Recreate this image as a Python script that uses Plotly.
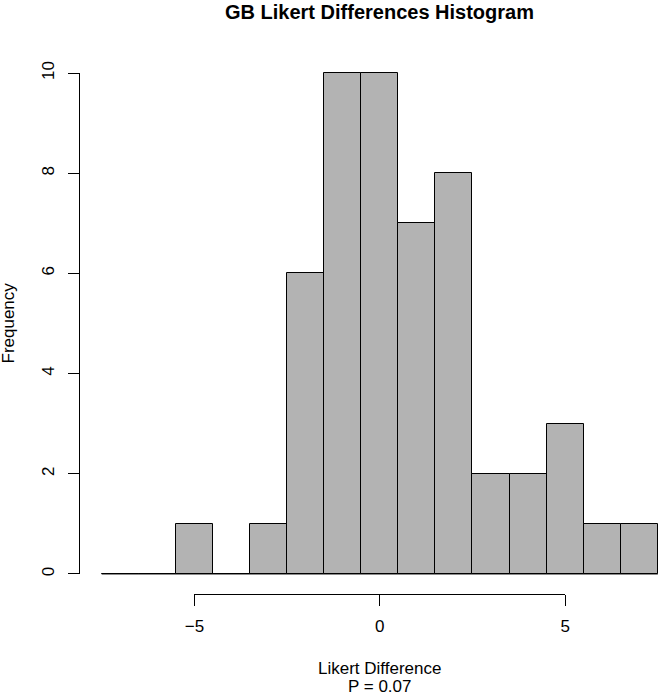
import plotly.graph_objects as go

# Data
bin_centers = [-7, -6, -5, -4, -3, -2, -1, 0, 1, 2, 3, 4, 5, 6, 7]
counts = [0, 0, 1, 0, 1, 6, 10, 10, 7, 8, 2, 2, 3, 1, 1]
bin_width = 1
x_ticks = [-5, 0, 5]
y_ticks = [0, 2, 4, 6, 8, 10]
title = "GB Likert Differences Histogram"
x_label = "Likert Difference"
sub_label = "P = 0.07"
y_label = "Frequency"

FONT = "Liberation Sans, Arial, Helvetica, sans-serif"
W, H = 664, 695
ML, MR, MT, MB = 79, 0, 53, 101

# R-style axis ranges (4% extension)
edges_lo = bin_centers[0] - bin_width / 2
edges_hi = bin_centers[-1] + bin_width / 2
xmin = -8.112
xmax = 7.53
ymin, ymax = -0.4, 10.4

def fx(v):
    return (v - xmin) / (xmax - xmin)

def fy(v):
    return (v - ymin) / (ymax - ymin)

xc = (fx(-8.1) + fx(8.1)) / 2

fig = go.Figure()
# invisible trace to carry the detached R-style axes
fig.add_trace(go.Scatter(
    x=[x_ticks[0], x_ticks[-1]], y=[y_ticks[0], y_ticks[-1]],
    xaxis="x2", yaxis="y2", mode="markers",
    marker=dict(opacity=0), hoverinfo="skip", showlegend=False))
fig.add_trace(go.Scatter(
    x=[edges_lo, edges_hi], y=[0, 0], mode="lines",
    line=dict(color="black", width=1), hoverinfo="skip", showlegend=False))
fig.add_trace(go.Bar(
    x=bin_centers, y=counts, width=bin_width,
    marker=dict(color="#b3b3b3", line=dict(color="black", width=1)),
    showlegend=False))

fig.update_layout(
    width=W, height=H,
    margin=dict(l=ML, r=MR, t=MT, b=MB, pad=0),
    paper_bgcolor="white", plot_bgcolor="rgba(0,0,0,0)",
    bargap=0,
    font=dict(family=FONT, size=17, color="black"),
    xaxis=dict(range=[xmin, xmax], visible=False, domain=[0, 1]),
    yaxis=dict(range=[ymin, ymax], visible=False, domain=[0, 1]),
    xaxis2=dict(
        domain=[fx(x_ticks[0]), fx(x_ticks[-1])],
        range=[x_ticks[0], x_ticks[-1]],
        anchor="free", position=0,
        showline=True, linecolor="black", linewidth=1,
        ticks="outside", ticklen=11, tickwidth=1, tickcolor="black",
        tickvals=x_ticks, showgrid=False, zeroline=False,
        tickfont=dict(family=FONT, size=17, color="black"),
        ticklabelstandoff=6,
    ),
    yaxis2=dict(
        domain=[fy(y_ticks[0]), fy(y_ticks[-1])],
        range=[y_ticks[0], y_ticks[-1]],
        anchor="free", position=0,
        showline=True, linecolor="black", linewidth=1,
        ticks="outside", ticklen=11, tickwidth=1, tickcolor="black",
        tickvals=y_ticks, showgrid=False, zeroline=False,
        tickangle=-90,
        tickfont=dict(family=FONT, size=17, color="black"),
        ticklabelstandoff=7,
    ),
    annotations=[
        dict(text=f"<b>{title}</b>", xref="paper", yref="paper",
             x=xc, y=1, yshift=41, showarrow=False,
             xanchor="center", yanchor="middle",
             font=dict(family=FONT, size=20, color="black")),
        dict(text=y_label, xref="paper", yref="paper", x=0, y=0.5,
             xshift=-71, textangle=-90, showarrow=False,
             xanchor="center", yanchor="middle",
             font=dict(family=FONT, size=17, color="black")),
        dict(text=x_label, xref="paper", yref="paper",
             x=xc, y=0, yshift=-74, showarrow=False,
             xanchor="center", yanchor="middle",
             font=dict(family=FONT, size=17, color="black")),
        dict(text=sub_label, xref="paper", yref="paper",
             x=xc, y=0, yshift=-92, showarrow=False,
             xanchor="center", yanchor="middle",
             font=dict(family=FONT, size=17, color="black")),
    ],
)

fig.write_html("out.html")
